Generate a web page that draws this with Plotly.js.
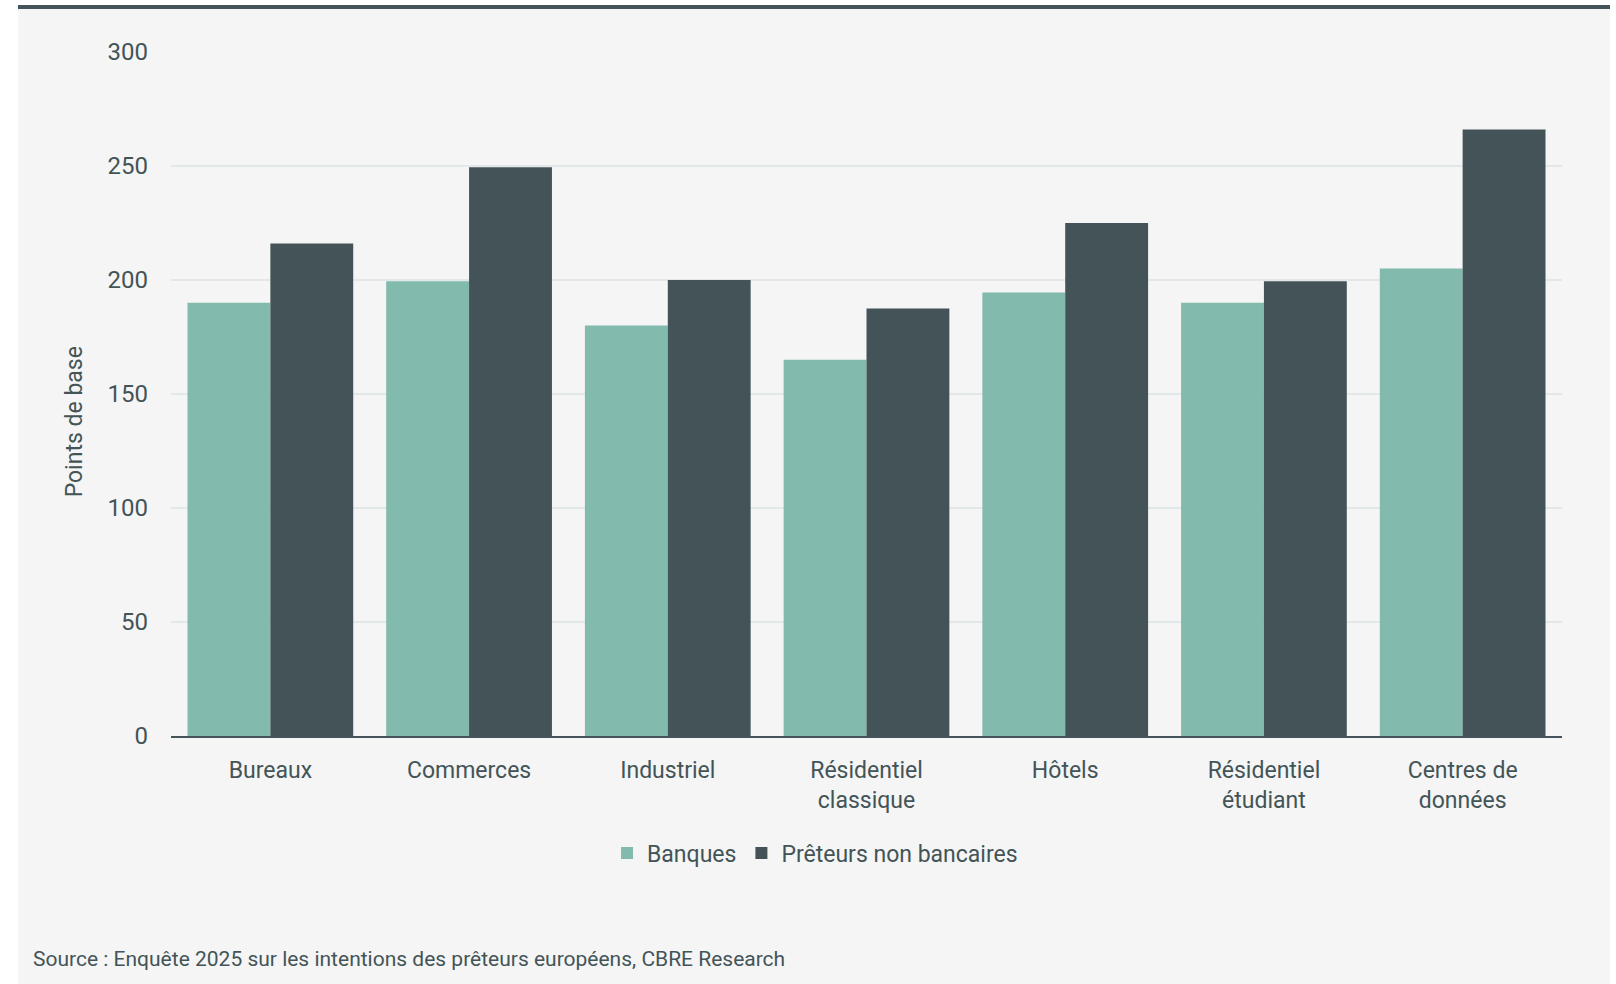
<!DOCTYPE html>
<html lang="fr">
<head>
<meta charset="utf-8">
<script src="https://cdn.plot.ly/plotly-3.0.1.min.js"></script>
<style>
  html, body { margin: 0; padding: 0; background: #ffffff; width: 1616px; height: 984px; overflow: hidden; }
  #topbar { position: absolute; left: 18px; top: 5px; width: 1592px; height: 4px; background: #44535a; }
  #chart { position: absolute; left: 18px; top: 9px; width: 1592px; height: 975px; }
</style>
</head>
<body>
<div id="topbar"></div>
<div id="chart"></div>
<script>
// Catégories d'actifs et marges (points de base) par type de prêteur
const categories = [
  "Bureaux",
  "Commerces",
  "Industriel",
  "Résidentiel<br>classique",
  "Hôtels",
  "Résidentiel<br>étudiant",
  "Centres de<br>données"
];
const banques = [190, 199.5, 180, 165, 194.5, 190, 205];
const preteursNonBancaires = [216, 249.5, 200, 187.5, 225, 199.5, 266];
const yTicks = [0, 50, 100, 150, 200, 250, 300];
const sourceText = "Source : Enquête 2025 sur les intentions des prêteurs européens, CBRE Research";
const yTitle = "Points de base";

const textColor = "#435457";
const font = "Roboto, 'Open Sans', sans-serif";

const traces = [
  {
    type: "bar",
    name: "Banques",
    x: categories,
    y: banques,
    marker: { color: "#82bbad" },
    hoverinfo: "y+name"
  },
  {
    type: "bar",
    name: "Prêteurs non bancaires",
    x: categories,
    y: preteursNonBancaires,
    marker: { color: "#435357" },
    hoverinfo: "y+name"
  }
];

const layout = {
  width: 1592,
  height: 975,
  paper_bgcolor: "#f5f5f5",
  plot_bgcolor: "#f5f5f5",
  margin: { l: 153, r: 48, t: 43, b: 248 },
  font: { family: font, size: 23, color: textColor },
  barmode: "group",
  bargap: 0.166,
  bargroupgap: 0,
  showlegend: true,
  legend: {
    orientation: "h",
    x: 0.463,
    xanchor: "center",
    y: -0.171,
    yanchor: "middle",
    font: { family: font, size: 23, color: textColor },
    bgcolor: "rgba(0,0,0,0)",
    itemclick: false,
    itemdoubleclick: false
  },
  xaxis: {
    type: "category",
    showgrid: false,
    showline: true,
    linecolor: "#44535a",
    linewidth: 2,
    ticks: "",
    ticklabelstandoff: 12,
    tickfont: { family: font, size: 23, color: textColor },
    fixedrange: true
  },
  yaxis: {
    range: [0, 300],
    tickvals: yTicks,
    ticktext: yTicks.map(String),
    showgrid: true,
    gridcolor: "#e2e7e7",
    gridwidth: 1.5,
    zeroline: false,
    showline: false,
    ticks: "",
    ticklabelstandoff: 22,
    tickfont: { family: font, size: 24, color: textColor },
    fixedrange: true
  },
  annotations: [
    {
      text: yTitle,
      xref: "paper", yref: "paper",
      x: -0.0695, y: 0.459,
      xanchor: "center", yanchor: "middle",
      textangle: -90,
      showarrow: false,
      font: { family: font, size: 23, color: textColor }
    },
    {
      text: sourceText,
      xref: "paper", yref: "paper",
      x: -0.1007, y: -0.326,
      xanchor: "left", yanchor: "middle",
      showarrow: false,
      font: { family: font, size: 21, color: textColor }
    }
  ]
};

Plotly.newPlot("chart", traces, layout, { displayModeBar: false, responsive: false });
</script>
</body>
</html>
